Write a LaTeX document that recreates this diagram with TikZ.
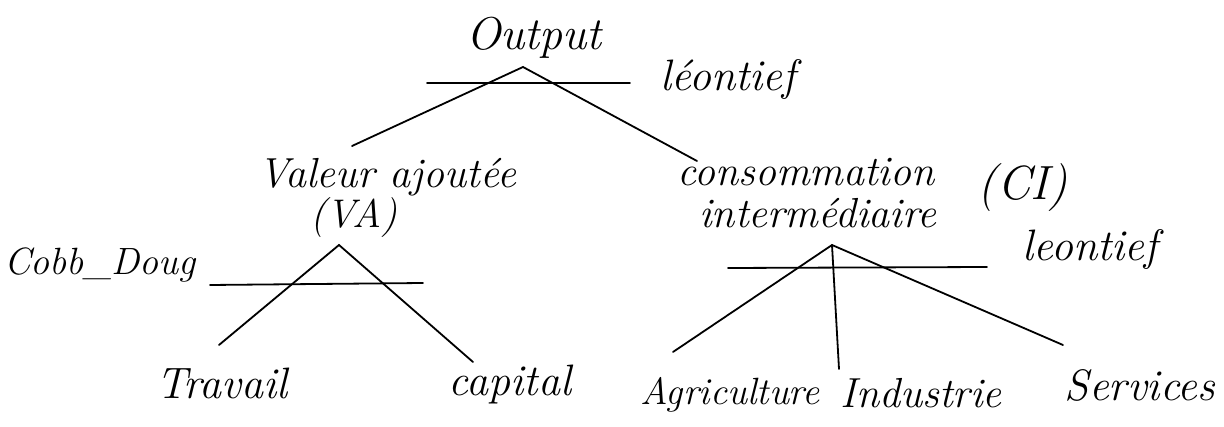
\documentclass[tikz,border=0pt]{standalone}
\begin{document}
\begin{tikzpicture}[x=1pt,y=-1pt,
  lbl/.style={font=\fontsize{#1}{#1}\selectfont\itshape, inner sep=0pt},
  stroke/.style={line width=1.8pt, line cap=round}]
\useasboundingbox (0,0) rectangle (1224,427);
% texts
\node[lbl=46] (out) at (534,38) {Output};
\node[lbl=44] (leo1) at (728,80) {l\'eontief};
\node[lbl=42] (va) at (387,177) {Valeur ajout\'ee};
\node[lbl=40] (vab) at (354,218) {(VA)};
\node[lbl=42] (ci) at (806,172) {consommation};
\node[lbl=42] (ci2) at (818,213) {interm\'ediaire};
\node[lbl=48] (cib) at (1023,188) {(CI)};
\node[lbl=44] (leo2) at (1090,250) {leontief};
\node[lbl=38] (cobb) at (100,265) {Cobb\_Doug};
\node[lbl=44] (trav) at (222,383) {Travail};
\node[lbl=44] (cap) at (510,385) {capital};
\node[lbl=38] (agr) at (730,395) {Agriculture};
\node[lbl=42] (ind) at (921,393) {Industrie};
\node[lbl=44] (ser) at (1140,385) {Services};
% anchor points
\coordinate (a0) at (523,67);
\coordinate (a0l) at (352,146);
\coordinate (a0r) at (697,161);
\coordinate (h0a) at (427,83);
\coordinate (h0b) at (630,83);
\coordinate (a1) at (339,245);
\coordinate (a1l) at (219,345);
\coordinate (a1r) at (473,362);
\coordinate (h1a) at (210,285);
\coordinate (h1b) at (423,283);
\coordinate (a2) at (832,245);
\coordinate (a2l) at (673,352);
\coordinate (a2m) at (839,369);
\coordinate (a2r) at (1063,345);
\coordinate (h2a) at (728,268);
\coordinate (h2b) at (987,267);
% connectors
\draw[stroke] (h0a) -- (h0b);
\draw[stroke] (a0l) -- (a0) -- (a0r);
\draw[stroke] (h1a) -- (h1b);
\draw[stroke] (a1l) -- (a1) -- (a1r);
\draw[stroke] (h2a) -- (h2b);
\draw[stroke] (a2l) -- (a2) -- (a2r);
\draw[stroke] (a2) -- (a2m);
\end{tikzpicture}
\end{document}
